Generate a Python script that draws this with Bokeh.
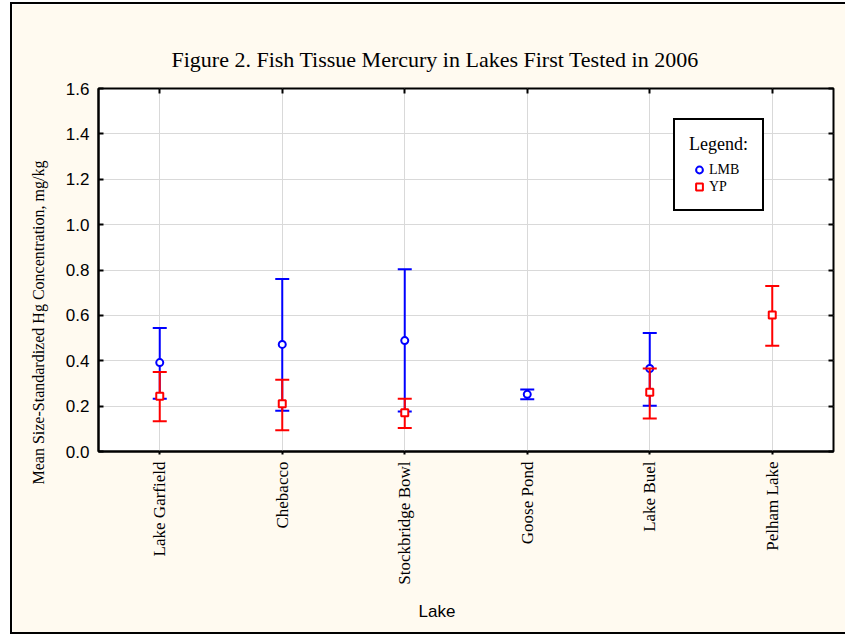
from math import pi
from bokeh.plotting import figure
from bokeh.models import (ColumnDataSource, FactorRange, Range1d, LinearAxis, CategoricalAxis,
                          FixedTicker, NumeralTickFormatter, Title, Legend, LegendItem)
from bokeh.embed import file_html
from bokeh.resources import INLINE

# ---------------- data ----------------
lakes = ["Lake Garfield", "Chebacco", "Stockbridge Bowl", "Goose Pond", "Lake Buel", "Pelham Lake"]

lmb_lakes = ["Lake Garfield", "Chebacco", "Stockbridge Bowl", "Goose Pond", "Lake Buel"]
lmb_mean = [0.392, 0.472, 0.489, 0.252, 0.366]
lmb_upper = [0.544, 0.760, 0.803, 0.273, 0.522]
lmb_lower = [0.232, 0.180, 0.176, 0.230, 0.202]

yp_lakes = ["Lake Garfield", "Chebacco", "Stockbridge Bowl", "Lake Buel", "Pelham Lake"]
yp_mean = [0.243, 0.210, 0.171, 0.261, 0.602]
yp_upper = [0.350, 0.316, 0.233, 0.366, 0.730]
yp_lower = [0.133, 0.094, 0.104, 0.146, 0.466]

y_ticks = [0.0, 0.2, 0.4, 0.6, 0.8, 1.0, 1.2, 1.4, 1.6]

title_text = "Figure 2.  Fish Tissue Mercury in Lakes First Tested in 2006"
y_label = "Mean Size-Standardized Hg Concentration, mg/kg"
x_label = "Lake"

SERIF = "Liberation Serif"
SANS = "Liberation Sans"

p = figure(x_range=FactorRange(factors=lakes, range_padding=0),
           y_range=Range1d(0, 1.6),
           width=835, height=632,
           output_backend="svg", toolbar_location=None,
           min_border_left=85, min_border_top=84, min_border_bottom=184, min_border_right=14,
           background_fill_color="white", border_fill_color="#FFFAF0",
           outline_line_color="black", outline_line_width=2)

p.styles = {"margin-left": "10px", "margin-top": "2px",
            "border-left": "2px solid black", "border-top": "2px solid black",
            "border-bottom": "2px solid black"}

# left axis
ya = p.yaxis[0]
ya.ticker = FixedTicker(ticks=y_ticks)
ya.formatter = NumeralTickFormatter(format="0.0")
ya.major_tick_in = 5
ya.major_tick_out = 0
ya.minor_tick_line_color = None
ya.axis_line_width = 2
ya.major_tick_line_width = 2
ya.major_label_standoff = 9
ya.major_label_text_font = SANS
ya.major_label_text_font_size = "17px"
ya.major_label_text_color = "black"

# bottom axis
xa = p.xaxis[0]
xa.major_label_orientation = pi / 2
xa.major_tick_in = 0
xa.major_tick_out = 3
xa.major_tick_line_width = 2
xa.axis_line_width = 2
xa.major_label_standoff = 7
xa.major_label_text_font = SERIF
xa.major_label_text_font_size = "17px"
xa.major_label_text_color = "black"

# top / right tick-only axes (labels not drawn)
top = CategoricalAxis(major_tick_in=5, major_tick_out=0, major_label_text_font_size="0px",
                      major_label_text_color=None, major_label_standoff=0,
                      axis_line_color=None, major_tick_line_width=2)
p.add_layout(top, "above")
right = LinearAxis(ticker=FixedTicker(ticks=y_ticks), major_tick_in=5, major_tick_out=0,
                   major_label_text_font_size="0px", major_label_text_color=None,
                   major_label_standoff=0, minor_tick_line_color=None,
                   axis_line_color=None, major_tick_line_width=2)
p.add_layout(right, "right")

p.xgrid.grid_line_color = "#D9D9D9"
p.ygrid.grid_line_color = "#D9D9D9"
p.xgrid.grid_line_width = 1
p.ygrid.grid_line_width = 1

# ---------------- series ----------------
lmb = ColumnDataSource(dict(lake=lmb_lakes, mean=lmb_mean, upper=lmb_upper, lower=lmb_lower))
yp = ColumnDataSource(dict(lake=yp_lakes, mean=yp_mean, upper=yp_upper, lower=yp_lower))


def errbars(src, color, marker, size):
    p.segment(x0="lake", y0="lower", x1="lake", y1="upper", source=src,
              line_color=color, line_width=2)
    p.scatter(x="lake", y="upper", marker="dash", size=14, source=src,
              line_color=color, line_width=2)
    p.scatter(x="lake", y="lower", marker="dash", size=14, source=src,
              line_color=color, line_width=2)
    return p.scatter(x="lake", y="mean", marker=marker, size=size, source=src,
                     line_color=color, fill_color="white", line_width=2)


r_lmb = errbars(lmb, "#0000FF", "circle", 7)
r_yp = errbars(yp, "#FF0000", "square", 7)

legend = Legend(items=[LegendItem(label="LMB", renderers=[r_lmb]),
                       LegendItem(label="YP", renderers=[r_yp])],
                location=(575, 240), title="Legend:",
                title_text_font=SERIF, title_text_font_size="18px",
                title_text_font_style="normal", title_text_color="black", title_standoff=6,
                label_text_font=SERIF, label_text_font_size="14px", label_text_color="black",
                border_line_color="black", border_line_width=2, border_line_alpha=1,
                background_fill_color="white", background_fill_alpha=1,
                padding=14, spacing=0, margin=0,
                glyph_width=20, glyph_height=17, label_height=17, label_width=37,
                label_standoff=0)
p.add_layout(legend, "center")

# ---------------- texts ----------------
p.add_layout(Title(text=title_text, align="left", offset=73, standoff=34,
                   text_font=SERIF, text_font_size="22px", text_font_style="normal",
                   text_color="black"), "above")
p.add_layout(Title(text=x_label, align="left", offset=320, standoff=28, vertical_align="top",
                   text_font=SANS, text_font_size="17px", text_font_style="normal",
                   text_color="black"), "below")
p.add_layout(Title(text=y_label, align="left", offset=-33, standoff=31,
                   text_font=SERIF, text_font_size="16px", text_font_style="normal",
                   text_color="black"), "left")

open("out.html", "w").write(file_html(p, INLINE))
